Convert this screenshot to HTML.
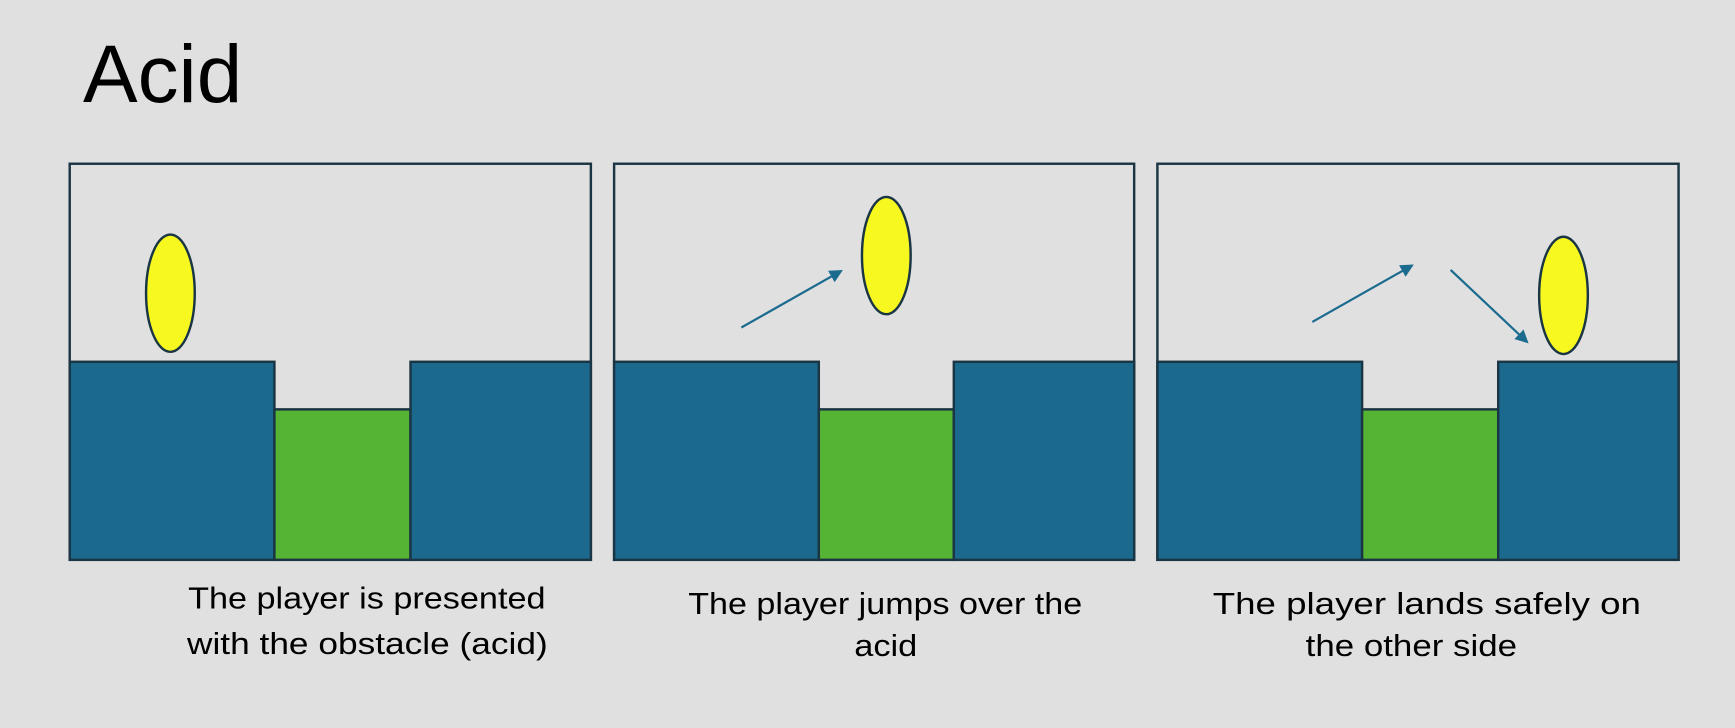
<!DOCTYPE html>
<html><head><meta charset="utf-8"><style>
html,body{margin:0;padding:0;background:#e0e0e0;}
svg{display:block;}
text{font-family:"Liberation Sans",sans-serif;fill:#000;}
</style></head><body>
<svg width="1735" height="728" viewBox="0 0 1568 658" preserveAspectRatio="none">
<defs>
<marker id="ah" markerWidth="6" markerHeight="6" refX="5" refY="3" orient="auto" markerUnits="strokeWidth"><path d="M0,0 L6,3 L0,6 z" fill="#1b6b8f"/></marker>
</defs>
<rect width="1568" height="658" fill="#e0e0e0"/>
<text x="75" y="92" font-size="74">Acid</text>

<g stroke="#1a3543" stroke-width="2.2">
<rect x="63" y="148" width="471" height="358" fill="#e0e0e0"/>
<rect x="63" y="327" width="185" height="179" fill="#1b6a8e"/>
<rect x="248" y="370" width="123" height="136" fill="#56b434"/>
<rect x="371" y="327" width="163" height="179" fill="#1b6a8e"/>
<ellipse cx="154" cy="265" rx="22" ry="53" fill="#f8f821"/>
</g>

<g stroke="#1a3543" stroke-width="2.2">
<rect x="555" y="148" width="470" height="358" fill="#e0e0e0"/>
<rect x="555" y="327" width="185" height="179" fill="#1b6a8e"/>
<rect x="740" y="370" width="122" height="136" fill="#56b434"/>
<rect x="862" y="327" width="163" height="179" fill="#1b6a8e"/>
<ellipse cx="801" cy="231" rx="22" ry="53" fill="#f8f821"/>
<line x1="670" y1="296" x2="760" y2="245" stroke="#1b6b8f" stroke-width="2" marker-end="url(#ah)"/>
</g>

<g stroke="#1a3543" stroke-width="2.2">
<rect x="1046" y="148" width="471" height="358" fill="#e0e0e0"/>
<rect x="1046" y="327" width="185" height="179" fill="#1b6a8e"/>
<rect x="1231" y="370" width="123" height="136" fill="#56b434"/>
<rect x="1354" y="327" width="163" height="179" fill="#1b6a8e"/>
<ellipse cx="1413" cy="267" rx="22" ry="53" fill="#f8f821"/>
<line x1="1186" y1="291" x2="1276" y2="240" stroke="#1b6b8f" stroke-width="2" marker-end="url(#ah)"/>
<line x1="1311" y1="244" x2="1380" y2="309" stroke="#1b6b8f" stroke-width="2" marker-end="url(#ah)"/>
</g>

<text font-size="28" lengthAdjust="spacingAndGlyphs"><tspan x="170" y="550" textLength="323" lengthAdjust="spacingAndGlyphs">The player is presented</tspan><tspan x="169" y="591" textLength="326" lengthAdjust="spacingAndGlyphs">with the obstacle (acid)</tspan></text>
<text font-size="28"><tspan x="622" y="555" textLength="356" lengthAdjust="spacingAndGlyphs">The player jumps over the</tspan><tspan x="772" y="593" textLength="57" lengthAdjust="spacingAndGlyphs">acid</tspan></text>
<text font-size="28"><tspan x="1096" y="555" textLength="387" lengthAdjust="spacingAndGlyphs">The player lands safely on</tspan><tspan x="1180" y="593" textLength="191" lengthAdjust="spacingAndGlyphs">the other side</tspan></text>
</svg>
</body></html>
